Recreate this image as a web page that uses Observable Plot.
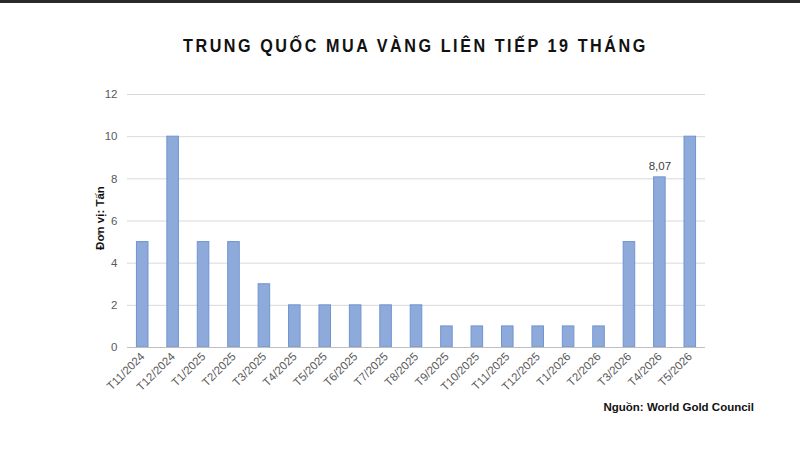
<!DOCTYPE html>
<html>
<head>
<meta charset="utf-8">
<script src="https://cdn.jsdelivr.net/npm/d3@7"></script>
<script src="https://cdn.jsdelivr.net/npm/@observablehq/plot@0.6"></script>
<style>
  body { margin: 0; background: #fff; font-family: "Liberation Sans", Arial, sans-serif; }
  #wrap { width: 800px; height: 452px; position: relative; border-top: 3px solid #2a2a2a; box-sizing: border-box; }
  #title { position: absolute; top: 32px; left: 0; width: 831px; text-align: center; font-size: 19px; font-weight: bold; letter-spacing: 3px; color: #111; transform: scaleX(0.85); transform-origin: 415px 0; }
  #chart { position: absolute; top: 67px; left: 0; }
  #source { position: absolute; top: 398px; right: 46px; font-size: 11.5px; font-weight: bold; color: #111; }
</style>
</head>
<body>
<div id="wrap">
  <div id="title">TRUNG QUỐC MUA VÀNG LIÊN TIẾP 19 THÁNG</div>
  <div id="chart"></div>
  <div id="source">Nguồn: World Gold Council</div>
</div>
<script>
const months = ["T11/2024","T12/2024","T1/2025","T2/2025","T3/2025","T4/2025","T5/2025","T6/2025","T7/2025","T8/2025","T9/2025","T10/2025","T11/2025","T12/2025","T1/2026","T2/2026","T3/2026","T4/2026","T5/2026"];
const tonnes = [5,10,5,5,3,2,2,2,2,2,1,1,1,1,1,1,5,8.07,10];
const yTicks = [0,2,4,6,8,10,12];
const labelled = ["T4/2026"];
const labelText = ["8,07"];
const yLabel = "Đơn vị: Tấn";

const data = months.map((m, i) => ({month: m, value: tonnes[i]}));
const labels = labelled.map((m, i) => ({month: m, value: tonnes[months.indexOf(m)], text: labelText[i]}));

const chart = Plot.plot({
  width: 800,
  height: 333,
  marginTop: 24,
  marginBottom: 56,
  marginLeft: 127,
  marginRight: 95,
  style: {fontFamily: "Liberation Sans, Arial, sans-serif", fontSize: "11.5px", color: "#595959", background: "transparent"},
  x: {domain: months, paddingInner: 0.62, paddingOuter: 0.31, round: false, label: null, tickRotate: -45, tickSize: 0, tickPadding: 7},
  y: {domain: [0, 12], ticks: yTicks, label: null, tickSize: 0, tickPadding: 10, tickFormat: d => d},
  marks: [
    Plot.gridY(yTicks, {stroke: "#d9d9d9", strokeOpacity: 1, strokeWidth: 1}),
    Plot.barY(data, {x: "month", y: "value", fill: "#8eaadb", stroke: "#7094d2", strokeWidth: 1}),
    Plot.ruleY([0], {stroke: "#bfbfbf", strokeWidth: 1}),
    Plot.text(labels, {x: "month", y: "value", text: "text", dy: -11, fill: "#404040", fontSize: 11.5}),
    Plot.text([yLabel], {frameAnchor: "left", textAnchor: "middle", text: d => d, rotate: -90, dx: -27, dy: -3, fontWeight: "bold", fill: "#111", fontSize: 11.5})
  ]
});
document.getElementById("chart").appendChild(chart);
</script>
</body>
</html>
